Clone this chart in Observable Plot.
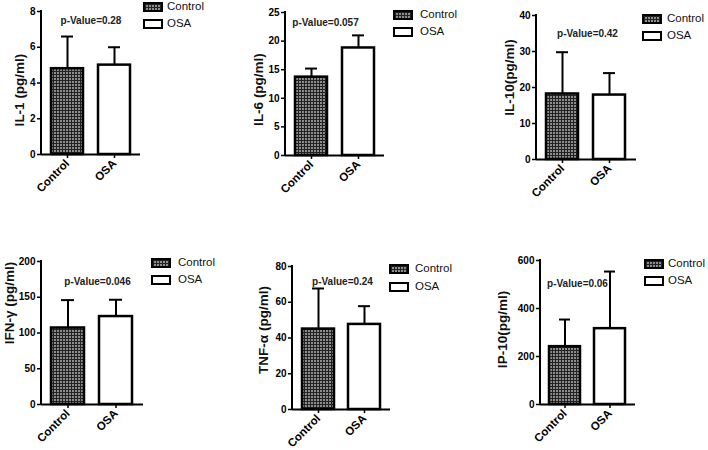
<!DOCTYPE html>
<html>
<head>
<meta charset="utf-8">
<script src="https://cdn.jsdelivr.net/npm/d3@7"></script>
<script src="https://cdn.jsdelivr.net/npm/@observablehq/plot@0.6"></script>
<style>
  body { margin: 0; background: #fff; font-family: "Liberation Sans", Arial, sans-serif; }
  #root { position: relative; width: 708px; height: 450px; overflow: hidden; background: #fff; }
  .panel { position: absolute; }
  .leg { position: absolute; font-size: 11.5px; color: #111; line-height: 1; white-space: nowrap; }
</style>
</head>
<body>
<svg width="0" height="0" style="position:absolute">
  <defs>
    <pattern id="checker" width="3" height="3" patternUnits="userSpaceOnUse">
      <rect width="3" height="3" fill="#222"></rect>
      <rect x="0" y="0" width="2" height="2" fill="#8c8c8c"></rect>
    </pattern>
  </defs>
</svg>
<div id="root"></div>
<script>
// ---- data ----
const groups = ["Control", "OSA"];
const yLabels = ["IL-1 (pg/ml)", "IL-6 (pg/ml)", "IL-10(pg/ml)", "IFN-γ (pg/ml)", "TNF-α (pg/ml)", "IP-10(pg/ml)"];
const controlMean = [4.8, 13.7, 18.2, 107, 45, 241];
const controlUpper = [6.6, 15.2, 29.8, 146, 67.7, 354];
const osaMean = [5.0, 18.8, 17.9, 123, 47.6, 316];
const osaUpper = [6.0, 21.0, 24.0, 146.5, 57.8, 554];
const pValues = ["0.28", "0.057", "0.42", "0.046", "0.24", "0.06"];
const yMax = [8, 25, 40, 200, 80, 600];
const yTicks = [[0, 2, 4, 6, 8], [0, 5, 10, 15, 20, 25], [0, 10, 20, 30, 40], [0, 50, 100, 150, 200], [0, 20, 40, 60, 80], [0, 200, 400, 600]];

// ---- layout ----
const layout = [
  {left: 0,   top: 0,   mL: 41, mR: 96, mT: 11, mB: 71, pdx: 0,     pdy: 5,  ldx: -22, ldy: 7,   sw: [144, 7, 23.5],   tx: 167},
  {left: 236, top: 0,   mL: 49, mR: 88, mT: 12, mB: 70, pdx: -9.5,  pdy: 6,  ldx: -27, ldy: 5.5, sw: [394, 15, 32],    tx: 420},
  {left: 472, top: 0,   mL: 64, mR: 72, mT: 15, mB: 66, pdx: 1,     pdy: 14, ldx: -27, ldy: -10, sw: [643, 19, 36],    tx: 667},
  {left: 0,   top: 225, mL: 41, mR: 93, mT: 36, mB: 46, pdx: 5,     pdy: 16, ldx: -32, ldy: -30, sw: [152, 263, 280],  tx: 178},
  {left: 236, top: 225, mL: 56, mR: 82, mT: 41, mB: 41, pdx: 1,     pdy: 11, ldx: -29, ldy: -8,  sw: [390, 269, 286.5], tx: 415},
  {left: 472, top: 225, mL: 68, mR: 73, mT: 35, mB: 46, pdx: -10.5, pdy: 19, ldx: -38, ldy: -3,  sw: [645, 264, 281],  tx: 668}
];

const FONT = "Liberation Sans, Arial, sans-serif";
const root = document.getElementById("root");

function yAxisLine(index, scales, values, dims) {
  const g = d3.create("svg:path")
    .attr("d", `M${dims.marginLeft},${dims.marginTop - 1}V${dims.height - dims.marginBottom + 1}`)
    .attr("stroke", "black").attr("stroke-width", 2).attr("fill", "none");
  return g.node();
}

for (let i = 0; i < 6; i++) {
  const L = layout[i];
  const rows = groups.map((g, j) => ({
    group: g,
    mean: j === 0 ? controlMean[i] : osaMean[i],
    upper: j === 0 ? controlUpper[i] : osaUpper[i]
  }));
  const chart = Plot.plot({
    width: 236, height: 225,
    marginLeft: L.mL, marginRight: L.mR, marginTop: L.mT, marginBottom: L.mB,
    style: {fontFamily: FONT, background: "transparent", overflow: "visible", color: "black"},
    x: {domain: groups, paddingInner: 0.31, paddingOuter: 0.2, label: null},
    y: {domain: [0, yMax[i]], label: null},
    marks: [
      Plot.barY(rows.filter(d => d.group === "Control"), {x: "group", y: "mean", fill: "url(#checker)", stroke: "black", strokeWidth: 2.5}),
      Plot.barY(rows.filter(d => d.group === "OSA"), {x: "group", y: "mean", fill: "white", stroke: "black", strokeWidth: 2.5}),
      Plot.ruleX(rows, {x: "group", y1: "mean", y2: "upper", stroke: "black", strokeWidth: 2}),
      Plot.tickY(rows, {x: "group", y: "upper", stroke: "black", strokeWidth: 2, insetLeft: 10, insetRight: 10}),
      Plot.axisY({ticks: yTicks[i], tickSize: 4, tickPadding: 2, fontSize: 10, fontWeight: "bold", label: null, strokeWidth: 1.5, tickFormat: d => String(d)}),
      Plot.axisX({tickSize: 4, tickPadding: 3, tickRotate: -45, fontSize: 11.5, fontWeight: "bold", label: null, strokeWidth: 1.5}),
      Plot.ruleY([0], {stroke: "black", strokeWidth: 2}),
      yAxisLine,
      Plot.text([yLabels[i]], {text: d => d, frameAnchor: "left", textAnchor: "middle", rotate: -90, dx: L.ldx, dy: L.ldy, fontSize: 13.5, fontWeight: "bold", fill: "#111"}),
      Plot.text([pValues[i]], {text: d => `p-Value=${d}`, frameAnchor: "top", dx: L.pdx, dy: L.pdy, fontSize: 10, fontWeight: "bold", fill: "#222"})
    ]
  });
  chart.classList.add("panel");
  chart.style.left = L.left + "px";
  chart.style.top = L.top + "px";
  root.appendChild(chart);

  // legend
  groups.forEach((g, j) => {
    const cy = L.sw[j + 1];
    const sw = d3.create("svg").attr("width", 20).attr("height", 10)
      .style("position", "absolute").style("left", (L.sw[0] - 1) + "px").style("top", (cy - 5) + "px");
    sw.append("rect").attr("x", 1).attr("y", 1).attr("width", 18).attr("height", 8)
      .attr("fill", j === 0 ? "url(#checker)" : "white").attr("stroke", "black").attr("stroke-width", 2);
    root.appendChild(sw.node());
    const t = document.createElement("div");
    t.className = "leg";
    t.textContent = g;
    t.style.left = L.tx + "px";
    t.style.top = Math.max(0, cy - 6) + "px";
    root.appendChild(t);
  });
}
</script>
</body>
</html>
